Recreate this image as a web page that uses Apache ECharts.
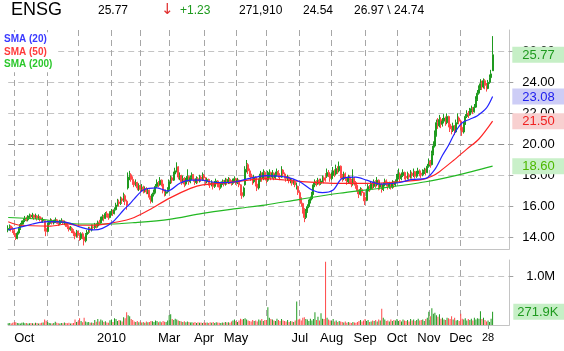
<!DOCTYPE html>
<html>
<head>
<meta charset="utf-8">
<script src="https://cdn.jsdelivr.net/npm/echarts@6/dist/echarts.min.js"></script>
<style>html,body{margin:0;padding:0;background:#fff}#chart{width:564px;height:351px}</style>
</head>
<body>
<div id="chart"></div>
<script>
const FONT = '"Liberation Sans", Arial, sans-serif';

// trading calendar: weekdays between these dates, minus market holidays
const firstDay = '2009-09-25';
const lastDay = '2010-12-31';
const holidays = ['2009-11-26', '2009-12-25', '2010-01-01', '2010-01-18', '2010-02-15', '2010-04-02',
  '2010-05-31', '2010-07-05', '2010-09-06', '2010-11-25', '2010-12-24'];
// one label per month start (Oct 2009 .. Dec 2010), blank = gridline only
const monthLabels = ['Oct', '', '', '2010', '', 'Mar', 'Apr', 'May', '', 'Jul', 'Aug', 'Sep', 'Oct', 'Nov', 'Dec'];
const dayTick = '2010-12-28';
const padDays = 11; // empty slots right of the last bar

const opens = [
  14.50,14.60,14.75,14.55,14.45,14.25,13.95,14.30,14.60,14.85, 14.95,15.10,15.25,15.15,15.30,15.40,15.35,15.45,15.30,15.40,
  15.25,15.35,15.20,15.10,15.10,14.60,14.40,14.85,15.00,15.10, 14.95,15.05,15.15,15.00,14.90,15.05,15.10,14.95,15.00,14.85,
  14.70,14.55,14.60,14.45,14.30,14.10,14.40,14.20,13.95,14.25, 14.05,13.80,14.20,14.35,14.60,14.50,14.70,14.65,14.85,14.75,
  15.00,14.95,15.20,15.35,15.25,15.55,15.45,15.30,15.60,15.70, 15.55,15.80,16.10,16.30,16.20,16.50,16.40,16.70,16.35,17.20,
  17.90,18.05,17.75,17.60,17.40,17.55,17.20,17.35,17.10,17.25, 17.00,17.15,16.95,17.05,16.60,16.35,16.80,16.90,17.30,17.55,
  17.40,17.70,17.45,17.00,16.85,16.95,17.10,17.60,17.85,17.70, 18.10,18.30,18.55,17.90,18.00,17.60,17.80,17.45,17.70,17.95,
  17.60,17.85,18.05,17.75,17.55,17.80,17.65,17.90,17.75,18.00, 17.85,17.60,17.75,17.50,17.40,17.55,17.30,17.50,17.65,17.40,
  17.25,17.50,17.60,17.45,17.70,17.55,17.75,17.60,17.50,17.65, 17.80,17.55,17.70,17.40,16.90,16.70,17.40,18.40,18.70,18.30,
  18.10,17.85,17.60,17.90,17.45,17.20,17.70,18.10,17.80,18.20, 17.95,17.70,18.00,18.20,17.90,18.15,17.85,18.05,18.25,18.00,
  17.90,18.35,18.10,17.95,17.80,17.90,17.65,17.70,17.50,17.60, 17.20,17.30,16.90,16.50,16.20,15.80,15.30,15.70,16.00,16.30,
  16.50,16.80,17.40,17.60,17.45,17.70,17.50,17.65,17.85,18.05, 17.95,18.20,18.10,17.80,18.00,18.30,18.10,18.45,18.30,18.60,
  18.00,17.80,18.10,17.85,17.60,17.90,17.70,17.45,17.80,17.55, 17.35,17.00,16.80,17.10,16.90,16.60,16.40,17.00,17.30,17.15,
  17.50,17.30,17.60,17.40,17.70,17.25,17.45,17.10,17.40,17.65, 17.50,17.30,17.45,17.25,17.55,17.40,17.60,17.90,18.10,17.80,
  18.00,18.20,17.95,17.85,18.05,17.90,18.15,18.00,18.25,17.95, 18.10,18.30,18.15,18.05,18.25,18.35,18.20,18.60,18.90,18.70,
  19.40,19.90,20.60,21.40,21.20,21.60,21.30,21.50,21.70,21.40, 21.80,21.30,21.00,20.90,21.20,20.80,21.40,21.70,21.50,21.10,
  20.80,21.30,21.80,22.00,21.90,22.20,22.30,22.10,22.40,22.90, 23.30,23.60,23.90,23.70,24.10,23.80,23.60,24.00,24.30,24.74
];
const closes = [
  14.60,14.70,14.55,14.50,14.20,13.95,14.30,14.60,14.85,14.95, 15.10,15.25,15.15,15.30,15.40,15.35,15.45,15.30,15.40,15.25,
  15.35,15.20,15.10,15.15,14.60,14.40,14.85,15.00,15.10,14.95, 15.05,15.15,15.00,14.90,15.05,15.10,14.95,15.00,14.85,14.70,
  14.55,14.60,14.45,14.30,14.10,14.40,14.20,13.95,14.25,14.05, 13.80,14.20,14.35,14.60,14.50,14.70,14.65,14.85,14.75,15.00,
  14.95,15.20,15.35,15.25,15.55,15.45,15.30,15.60,15.70,15.55, 15.80,16.10,16.30,16.20,16.50,16.40,16.70,16.35,16.10,17.90,
  18.05,17.75,17.60,17.40,17.55,17.20,17.35,17.10,17.25,17.00, 17.15,16.95,17.05,16.60,16.35,16.80,16.90,17.30,17.55,17.40,
  17.70,17.45,17.00,16.85,16.95,17.10,17.60,17.85,17.70,18.10, 18.30,18.55,17.90,18.00,17.60,17.80,17.45,17.70,17.95,17.60,
  17.85,18.05,17.75,17.55,17.80,17.65,17.90,17.75,18.00,17.85, 17.60,17.75,17.50,17.40,17.55,17.30,17.50,17.65,17.40,17.25,
  17.50,17.60,17.45,17.70,17.55,17.75,17.60,17.50,17.65,17.80, 17.55,17.70,17.40,16.90,16.70,17.20,18.40,18.70,18.30,18.10,
  17.85,17.60,17.90,17.45,17.20,17.70,18.10,17.80,18.20,17.95, 17.70,18.00,18.20,17.90,18.15,17.85,18.05,18.25,18.00,17.90,
  18.35,18.10,17.95,17.80,17.90,17.65,17.70,17.50,17.60,17.40, 17.30,16.90,16.50,16.20,15.80,15.30,15.70,16.00,16.30,16.50,
  16.80,17.40,17.60,17.45,17.70,17.50,17.65,17.85,17.70,17.95, 18.20,18.10,17.80,18.00,18.30,18.10,18.45,18.30,18.60,18.00,
  17.80,18.10,17.85,17.60,17.90,17.70,17.45,17.80,17.55,17.35, 17.00,16.80,17.10,16.90,16.60,16.40,17.00,17.30,17.15,17.50,
  17.30,17.60,17.40,17.70,17.25,17.45,17.10,17.40,17.65,17.50, 17.30,17.45,17.25,17.55,17.40,17.60,17.90,18.10,17.80,18.00,
  18.20,17.95,17.85,18.05,17.90,18.15,18.00,18.25,17.95,18.10, 18.30,18.15,18.05,18.25,18.35,18.20,18.60,18.90,18.70,19.40,
  19.90,20.60,21.40,21.20,21.60,21.30,21.50,21.70,21.40,21.80, 21.30,21.00,20.90,21.20,20.80,21.40,21.70,21.50,21.10,20.80,
  21.30,21.80,22.00,21.90,22.20,22.30,22.10,22.40,22.90,23.30, 23.60,23.90,23.70,24.10,23.80,23.60,24.00,24.30,24.54,25.77
];
const lows = [
  14.35,14.45,14.40,14.30,14.05,13.85,13.90,14.20,14.50,14.70, 14.85,15.00,15.05,15.05,15.20,15.20,15.25,15.15,15.20,15.10,
  15.15,15.05,14.95,14.95,14.40,14.10,14.35,14.75,14.90,14.85, 14.85,14.95,14.90,14.75,14.80,14.95,14.85,14.80,14.70,14.55,
  14.40,14.45,14.30,14.10,13.90,14.00,14.00,13.80,13.85,13.90, 13.50,13.70,14.10,14.25,14.35,14.40,14.50,14.55,14.60,14.65,
  14.80,14.90,15.10,15.05,15.20,15.30,15.15,15.25,15.45,15.40, 15.50,15.75,16.00,16.00,16.10,16.20,16.30,16.10,15.80,17.10,
  17.70,17.60,17.40,17.25,17.30,17.05,17.00,16.95,17.00,16.85, 16.90,16.80,16.80,16.45,16.20,16.25,16.65,16.85,17.20,17.25,
  17.35,17.30,16.85,16.65,16.70,16.85,17.05,17.45,17.50,17.65, 17.95,18.20,17.75,17.70,17.40,17.50,17.25,17.35,17.60,17.40,
  17.50,17.70,17.60,17.40,17.45,17.50,17.55,17.60,17.65,17.65, 17.45,17.50,17.35,17.20,17.30,17.10,17.20,17.40,17.25,17.05,
  17.15,17.40,17.30,17.35,17.40,17.45,17.45,17.35,17.40,17.55, 17.40,17.45,17.25,16.70,16.50,16.60,17.35,18.20,18.10,17.90,
  17.65,17.40,17.50,17.30,17.00,17.10,17.60,17.60,17.70,17.75, 17.50,17.60,17.85,17.70,17.80,17.70,17.75,17.95,17.85,17.70,
  17.85,17.95,17.80,17.60,17.65,17.50,17.50,17.35,17.40,17.25, 17.10,16.75,16.35,16.00,15.55,15.00,15.20,15.60,15.90,16.20,
  16.40,16.75,17.25,17.30,17.40,17.35,17.40,17.55,17.50,17.60, 17.85,17.90,17.60,17.70,17.90,17.90,18.00,18.10,18.20,17.80,
  17.60,17.70,17.65,17.40,17.50,17.50,17.25,17.35,17.35,17.15, 16.80,16.55,16.70,16.70,16.35,16.10,16.35,16.90,16.95,17.05,
  17.10,17.20,17.20,17.30,17.05,17.10,16.90,17.00,17.30,17.30, 17.10,17.15,17.10,17.15,17.20,17.30,17.50,17.75,17.60,17.70,
  17.90,17.75,17.65,17.75,17.70,17.80,17.80,17.90,17.80,17.85, 18.00,17.95,17.85,17.95,18.10,18.00,18.15,18.50,18.50,18.65,
  19.30,19.80,20.50,21.00,21.10,21.05,21.15,21.35,21.20,21.30, 21.10,20.80,20.65,20.80,20.60,20.75,21.30,21.30,20.90,20.55,
  20.70,21.25,21.70,21.70,21.85,22.05,21.95,22.05,22.35,22.80, 23.20,23.50,23.50,23.60,23.55,23.40,23.55,23.90,24.20,24.74
];
const highs = [
  14.80,14.85,14.80,14.70,14.55,14.30,14.40,14.70,14.95,15.10, 15.25,15.40,15.35,15.45,15.55,15.50,15.60,15.50,15.55,15.45,
  15.50,15.40,15.30,15.30,15.15,14.70,14.95,15.10,15.25,15.20, 15.15,15.30,15.20,15.10,15.15,15.25,15.15,15.10,15.05,14.95,
  14.80,14.75,14.70,14.55,14.40,14.50,14.45,14.30,14.35,14.35, 14.15,14.30,14.50,14.70,14.70,14.85,14.85,14.95,14.95,15.10,
  15.15,15.35,15.50,15.45,15.65,15.70,15.55,15.70,15.85,15.80, 15.95,16.25,16.50,16.45,16.65,16.60,16.90,16.80,16.45,18.20,
  18.30,18.15,17.95,17.70,17.75,17.60,17.50,17.40,17.45,17.35, 17.30,17.25,17.20,17.10,16.70,16.90,17.10,17.45,17.75,17.65,
  17.90,17.75,17.50,17.10,17.10,17.25,17.75,18.00,17.95,18.25, 18.50,18.85,18.60,18.20,18.05,18.00,17.90,17.85,18.40,18.00,
  18.00,18.20,18.10,17.80,17.95,17.90,18.05,18.00,18.20,18.10, 17.90,17.85,17.80,17.60,17.70,17.60,17.65,17.80,17.70,17.50,
  17.60,17.75,17.70,17.85,17.80,17.90,17.85,17.70,17.80,17.95, 17.85,17.85,17.75,17.45,17.00,17.30,18.60,19.00,18.80,18.45,
  18.20,17.95,18.05,17.95,17.55,17.80,18.30,18.20,18.40,18.30, 18.00,18.30,18.40,18.25,18.35,18.20,18.25,18.45,18.35,18.15,
  18.60,18.40,18.20,18.05,18.05,17.95,17.85,17.80,17.75,17.70, 17.55,17.35,17.00,16.60,16.25,15.90,15.85,16.15,16.45,16.65,
  16.95,17.55,17.75,17.70,17.85,17.80,17.80,18.00,17.95,18.15, 18.45,18.35,18.15,18.20,18.55,18.40,18.70,18.60,18.90,18.65,
  18.10,18.25,18.20,17.90,18.05,18.00,17.80,18.40,17.90,17.65, 17.40,17.10,17.25,17.20,16.95,16.70,17.15,17.45,17.40,17.65,
  17.60,17.75,17.70,17.90,17.75,17.60,17.50,17.55,17.80,17.75, 17.60,17.60,17.55,17.70,17.65,17.75,18.10,18.45,18.20,18.20,
  18.40,18.25,18.10,18.25,18.15,18.35,18.25,18.45,18.30,18.30, 18.50,18.40,18.30,18.40,18.50,18.45,18.75,19.10,19.00,19.60,
  20.20,20.90,21.60,21.70,21.90,21.75,21.70,21.95,21.80,22.00, 21.85,21.45,21.20,21.40,21.25,21.60,22.00,21.80,21.60,21.20,
  21.45,21.95,22.20,22.15,22.35,22.50,22.40,22.60,23.10,23.50, 23.80,24.20,24.10,24.25,24.20,23.95,24.15,24.50,24.80,26.97
];
// volume in thousands of shares
const volumes = [
  35,40,30,45,60,55,40,35,30,45, 50,35,40,30,38,42,35,30,45,40, 32,36,45,50,110,85,60,40,35,30, 40,65,45,38,30,42,35,50,40,38,
  45,30,35,40,110,60,70,140,80,55, 150,70,55,60,45,50,40,100,65,120, 70,110,90,60,75,50,45,95,110,60, 140,120,80,100,90,70,160,140,260,200,
  180,120,100,70,60,80,55,70,50,60, 45,70,55,60,80,75,60,90,80,55, 70,55,80,65,60,90,200,220,120,100, 130,110,90,80,70,60,75,55,70,60,
  50,55,45,60,40,55,45,50,40,55, 45,50,40,55,45,60,40,55,50,45, 40,50,45,60,50,55,45,70,90,110, 80,60,90,130,110,120,140,110,90,80,
  70,100,80,90,70,110,90,120,80,100, 100,360,150,120,110,90,80,130,100,80, 120,90,80,70,100,60,80,70,60,90, 480,110,130,90,150,160,120,110,80,130,
  90,120,260,100,170,90,240,130,120,1290, 150,110,90,80,120,70,90,60,80,70, 60,50,70,45,60,50,40,60,50,45, 60,80,100,70,90,120,80,100,60,70,
  90,80,100,70,110,90,330,150,110,80, 90,70,110,80,100,90,120,80,100,70, 110,90,80,100,70,120,90,110,80,100, 130,90,100,110,80,120,150,270,180,340,
  230,250,200,170,220,130,150,110,100,150, 140,120,180,110,150,90,100,80,230,130, 110,140,90,120,100,130,90,150,110,140, 130,280,120,150,100,70,90,60,130,271.91
];
// moving averages: [bar index, value]
const sma20 = [[0,14.50],[8,14.67],[16,14.88],[26,15.03],[39,14.97],[47,14.70],[56,14.50],[62,14.60],[69,15.03],[76,15.78],
  [80,16.17],[83,16.50],[89,17.07],[98,17.20],[105,17.00],[113,17.50],[120,17.70],[128,17.70],[133,17.60],[141,17.54],
  [150,17.60],[159,17.82],[170,18.00],[183,17.90],[192,17.60],[200,17.07],[207,16.90],[214,17.07],[220,17.82],[229,17.90],
  [236,17.70],[245,17.45],[258,17.55],[266,17.75],[275,17.82],[281,18.40],[286,19.30],[290,19.95],[295,20.90],[299,21.40],
  [304,21.62],[309,21.85],[315,22.35],[319,23.08]];
const sma50 = [[0,15.03],[8,14.80],[28,14.75],[39,14.88],[46,14.80],[56,14.80],[67,14.93],[78,15.14],[83,15.30],[93,15.80],
  [106,16.53],[120,17.17],[128,17.40],[146,17.55],[170,17.80],[192,17.62],[214,17.50],[236,17.50],[258,17.60],[273,17.75],
  [279,17.95],[284,18.25],[293,18.95],[302,19.70],[310,20.35],[319,21.50]];
const sma200 = [[0,15.30],[23,15.17],[46,14.88],[67,14.88],[83,14.97],[106,15.18],[128,15.57],[153,15.90],[169,16.10],
  [192,16.47],[218,16.86],[245,17.18],[275,17.60],[296,18.03],[319,18.60]];
const priceTicks = [14, 16, 18, 20, 22, 24, 26];
const volumeTicks = [1000];
const lastTags = [{ value: 25.77, style: 'last' }, { value: 23.08, style: 's20' }, { value: 21.50, style: 's50' }, { value: 18.60, style: 's200' }];
const header = { symbol: 'ENSG', last: '25.77', change: '+1.23', volume: '271,910', open: '24.54', range: '26.97 \\ 24.74' };

const UP = '#1f9a1f', DOWN = '#ff4848';
const BLUE = '#2424ff', RED = '#ff2424', GREEN = '#22b822';

// build calendar
const dates = [];
for (let d = new Date(firstDay + 'T00:00:00Z'); d <= new Date(lastDay + 'T00:00:00Z'); d.setUTCDate(d.getUTCDate() + 1)) {
  const s = d.toISOString().slice(0, 10);
  const wd = d.getUTCDay();
  if (wd === 0 || wd === 6 || holidays.includes(s)) continue;
  dates.push(s);
}
const monthStarts = [];
for (let i = 1; i < dates.length; i++) {
  if (dates[i].slice(0, 7) !== dates[i - 1].slice(0, 7)) monthStarts.push(i);
}
const startSet = new Set(monthStarts);
const labelAt = {};
monthStarts.forEach((idx, k) => { if (monthLabels[k]) labelAt[idx] = k === 0 ? '{first|' + monthLabels[k] + '}' : monthLabels[k]; });
const tickIdx = dates.indexOf(dayTick);
labelAt[tickIdx] = '{small|28}';
const categories = dates.concat(Array.from({ length: padDays }, (_, k) => 'pad' + k));

const candles = dates.map((_, i) => [opens[i], closes[i], lows[i], highs[i]]);
const volBars = volumes.map((v, i) => ({ value: v, itemStyle: { color: closes[i] >= opens[i] ? UP : DOWN } }));

const tagRich = {
  last: { color: '#1e9a1e', backgroundColor: '#c6efc6', padding: [2, 12, 1, 10], fontSize: 13, fontFamily: FONT },
  s20: { color: '#2020ee', backgroundColor: '#cdcdf6', padding: [2, 12, 1, 10], fontSize: 13, fontFamily: FONT },
  s50: { color: '#f02020', backgroundColor: '#f8d0d0', padding: [2, 12, 1, 10], fontSize: 13, fontFamily: FONT },
  s200: { color: '#4cb800', backgroundColor: '#c9f0c9', padding: [2, 12, 1, 10], fontSize: 13, fontFamily: FONT },
  vol: { color: '#1e9a1e', backgroundColor: '#c6efc6', padding: [2, 6, 1, 4], fontSize: 13, fontFamily: FONT }
};

const gridLeft = 8.2, gridRight = 564 - 509.3;
const dash = [6, 4];

const catAxis = (gridIndex, withLabels) => ({
  type: 'category', gridIndex, data: categories, boundaryGap: false,
  axisLine: { show: true, lineStyle: { color: '#c4c4c4', width: 1 } },
  axisTick: withLabels
    ? { show: true, interval: i => i === tickIdx, length: 4, lineStyle: { color: '#999' } }
    : { show: false },
  axisLabel: withLabels ? {
    show: true, interval: i => labelAt[i] !== undefined, formatter: (v, i) => labelAt[i] || '',
    hideOverlap: false, margin: 7, fontSize: 13, color: '#000', fontFamily: FONT,
    rich: { first: { padding: [0, 0, 0, 20], fontSize: 13, fontFamily: FONT, color: '#000' },
            small: { fontSize: 11, fontFamily: FONT, color: '#000' } }
  } : { show: false },
  splitLine: { show: true, interval: i => startSet.has(i), lineStyle: { color: '#a6a6a6', type: dash } }
});

const chart = echarts.init(document.getElementById('chart'), null, { renderer: 'canvas' });
chart.setOption({
  animation: false,
  backgroundColor: '#fff',
  textStyle: { fontFamily: FONT },
  title: [
    { text: header.symbol, left: 11, top: 1, padding: 0, textStyle: { fontSize: 18, fontWeight: 'normal', color: '#000', fontFamily: FONT } },
    { text: header.last, left: 98, top: 5, padding: 0, textStyle: { fontSize: 12, fontWeight: 'normal', color: '#000', fontFamily: FONT } },
    { text: '↓', left: 161, top: 3, padding: 0, textStyle: { fontSize: 15, fontWeight: 'normal', color: '#e03030', fontFamily: '"DejaVu Sans", sans-serif' } },
    { text: header.change, left: 180, top: 5, padding: 0, textStyle: { fontSize: 12, fontWeight: 'normal', color: '#1e9a1e', fontFamily: FONT } },
    { text: header.volume, left: 239, top: 5, padding: 0, textStyle: { fontSize: 12, fontWeight: 'normal', color: '#000', fontFamily: FONT } },
    { text: header.open, left: 303, top: 5, padding: 0, textStyle: { fontSize: 12, fontWeight: 'normal', color: '#000', fontFamily: FONT } },
    { text: header.range, left: 354, top: 5, padding: 0, textStyle: { fontSize: 12, fontWeight: 'normal', color: '#000', fontFamily: FONT } },
    {
      text: '{b|SMA (20)}\n{r|SMA (50)}\n{g|SMA (200)}', left: 0, top: 31, padding: [2, 5, 3, 4], backgroundColor: '#fff',
      textStyle: {
        rich: {
          b: { color: '#3a3aff', fontSize: 10, lineHeight: 12.5, fontFamily: FONT },
          r: { color: '#ff3a3a', fontSize: 10, lineHeight: 12.5, fontFamily: FONT },
          g: { color: '#2cc82c', fontSize: 10, lineHeight: 12.5, fontFamily: FONT }
        }
      }
    }
  ],
  grid: [
    { left: gridLeft, right: gridRight, top: 30, height: 219, outerBoundsMode: 'none', containLabel: false },
    { left: gridLeft, right: gridRight, top: 260, height: 65, outerBoundsMode: 'none', containLabel: false }
  ],
  xAxis: [catAxis(0, false), catAxis(1, true)],
  yAxis: [
    {
      type: 'value', gridIndex: 0, position: 'right', min: 13.273, max: 27.363,
      axisLine: { show: true, lineStyle: { color: '#c4c4c4' } },
      axisTick: { show: true, length: 4, customValues: priceTicks, lineStyle: { color: '#a0a0a0' } },
      axisLabel: { customValues: priceTicks, formatter: v => v.toFixed(2), margin: 13, fontSize: 13, color: '#000', fontFamily: FONT },
      splitLine: { show: true, lineStyle: { type: dash, color: ['#c4c4c4', '#c4c4c4', '#c4c4c4', '#8c8c8c', '#c4c4c4', '#c4c4c4', '#c4c4c4'] } }
    },
    {
      type: 'value', gridIndex: 0, position: 'right', min: 13.273, max: 27.363,
      axisLine: { show: false }, axisTick: { show: false }, splitLine: { show: false },
      axisLabel: {
        customValues: lastTags.map(t => t.value), margin: 3,
        formatter: v => { const t = lastTags.find(x => Math.abs(x.value - v) < 1e-6); return '{' + t.style + '|' + v.toFixed(2) + '}'; },
        rich: tagRich
      }
    },
    {
      type: 'value', gridIndex: 1, position: 'right', min: 0, max: 1327,
      axisLine: { show: true, lineStyle: { color: '#c4c4c4' } },
      axisTick: { show: true, length: 4, customValues: volumeTicks, lineStyle: { color: '#a0a0a0' } },
      axisLabel: { customValues: volumeTicks, formatter: v => (v / 1000).toFixed(1) + 'M', margin: 17, fontSize: 13, color: '#000', fontFamily: FONT },
      splitLine: { show: true, lineStyle: { type: dash, color: '#c4c4c4' } }
    },
    {
      type: 'value', gridIndex: 1, position: 'right', min: 0, max: 1327,
      axisLine: { show: false }, axisTick: { show: false }, splitLine: { show: false },
      axisLabel: { customValues: [volumes[volumes.length - 1]], margin: 4, formatter: v => '{vol|' + v.toFixed(1) + 'K}', rich: tagRich }
    }
  ],
  series: [
    {
      type: 'candlestick', xAxisIndex: 0, yAxisIndex: 0, data: candles, barWidth: 1.5,
      itemStyle: { color: UP, color0: DOWN, borderColor: UP, borderColor0: DOWN, borderWidth: 1 }, z: 2
    },
    { type: 'bar', xAxisIndex: 1, yAxisIndex: 2, data: volBars, barWidth: 1, z: 2 },
    { type: 'line', name: 'SMA (200)', xAxisIndex: 0, yAxisIndex: 0, data: sma200, smooth: 0.3, showSymbol: false, symbol: 'none', lineStyle: { color: GREEN, width: 1.2 }, z: 4 },
    { type: 'line', name: 'SMA (50)', xAxisIndex: 0, yAxisIndex: 0, data: sma50, smooth: 0.3, showSymbol: false, symbol: 'none', lineStyle: { color: RED, width: 1.2 }, z: 4 },
    { type: 'line', name: 'SMA (20)', xAxisIndex: 0, yAxisIndex: 0, data: sma20, smooth: 0.3, showSymbol: false, symbol: 'none', lineStyle: { color: BLUE, width: 1.2 }, z: 4 }
  ]
});
</script>
</body>
</html>
